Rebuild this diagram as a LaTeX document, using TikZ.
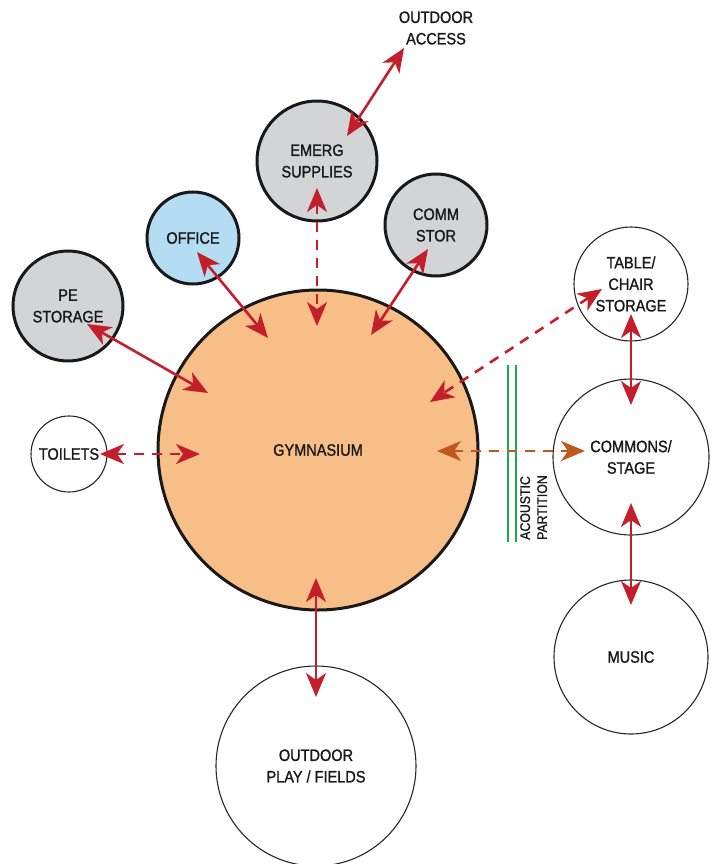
\documentclass[tikz,border=0pt]{standalone}
\usepackage{fontspec}
\setmainfont{Liberation Sans}[FakeStretch=0.88,FakeBold=1.2]
\usetikzlibrary{arrows.meta}
\definecolor{gymfill}{HTML}{F8BE88}
\definecolor{grayfill}{HTML}{D3D4D6}
\definecolor{bluefill}{HTML}{B4DDF4}
\definecolor{arrred}{HTML}{C41E2A}
\definecolor{arrbrown}{HTML}{C0581E}
\definecolor{partgreen}{HTML}{1FA84F}
\tikzset{
 room/.style={circle, inner sep=0pt, align=center, font=\fontsize{16.5}{21.5}\selectfont, text=black!90},
 thickroom/.style={room, draw=black!90, line width=3pt},
 thinroom/.style={room, draw=black!85, line width=1.1pt},
 tip/.tip={Stealth[length=24pt,width=20pt,inset=7pt]},
 link/.style={arrred, line width=2.6pt, tip-tip},
 dlink/.style={link, dash pattern=on 10pt off 8pt},
 blink/.style={dlink, draw=arrbrown, fill=arrbrown},
}
\begin{document}
\begin{tikzpicture}[x=1pt,y=-1pt]
\useasboundingbox (0,0) rectangle (713,864);
% rooms
\node[thickroom, fill=gymfill, minimum size=320pt] (gym) at (318,450) {GYMNASIUM};
\node[thickroom, fill=grayfill, minimum size=120pt] (emerg) at (317,161) {EMERG\\SUPPLIES};
\node[thickroom, fill=grayfill, minimum size=102pt] (comm) at (436,225) {COMM\\STOR};
\node[thickroom, fill=bluefill, minimum size=92pt] (office) at (193,238) {OFFICE};
\node[thickroom, fill=grayfill, minimum size=110pt] (pe) at (68,306) {PE\\STORAGE};
\node[thinroom, minimum size=76pt] (toilets) at (69,454) {TOILETS};
\node[thinroom, minimum size=114pt] (table) at (631,284) {TABLE/\\CHAIR\\STORAGE};
\node[thinroom, minimum size=156pt] (commons) at (631,457) {COMMONS/\\STAGE};
\node[thinroom, minimum size=154pt] (music) at (631,657) {MUSIC};
\node[thinroom, minimum size=200pt] (play) at (316,766) {OUTDOOR\\PLAY / FIELDS};
\node[room] (access) at (436,28) {OUTDOOR\\ACCESS};
% acoustic partition
\coordinate (pa1) at (508,365); \coordinate (pa2) at (508,542);
\coordinate (pb1) at (516,365); \coordinate (pb2) at (516,542);
\draw[partgreen, line width=1.6pt] (pa1) -- (pa2) (pb1) -- (pb2);
\node[rotate=90, anchor=north west, align=left, inner sep=0pt, font=\fontsize{14}{17}\selectfont, text=black!90] (part) at (520,540) {ACOUSTIC\\PARTITION};
% connector end points
\coordinate (acA) at (404,48);   \coordinate (emA) at (347,136);
\coordinate (emB) at (317,188);  \coordinate (gyB) at (317,326);
\coordinate (coC) at (428,249);  \coordinate (gyC) at (371,335);
\coordinate (ofD) at (197,252);  \coordinate (gyD) at (268,338);
\coordinate (peE) at (87,324);   \coordinate (gyE) at (208,393);
\coordinate (toF) at (100,454);  \coordinate (gyF) at (200,454);
\coordinate (taG) at (602,289);  \coordinate (gyG) at (430,402);
\coordinate (taH) at (631,314);  \coordinate (cmH) at (631,405);
\coordinate (gyI) at (437,451);  \coordinate (cmI) at (585,451);
\coordinate (cmJ) at (631,503);  \coordinate (muJ) at (631,605);
\coordinate (gyK) at (316,578);  \coordinate (plK) at (316,697);
% connectors
\draw[link] (acA) -- (emA);
\draw[dlink] (emB) -- (gyB);
\draw[link] (coC) -- (gyC);
\draw[link] (ofD) -- (gyD);
\draw[link] (peE) -- (gyE);
\draw[dlink] (toF) -- (gyF);
\draw[dlink] (taG) -- (gyG);
\draw[link] (taH) -- (cmH);
\draw[blink] (gyI) -- (cmI);
\draw[link] (cmJ) -- (muJ);
\draw[link] (gyK) -- (plK);
\end{tikzpicture}
\end{document}
